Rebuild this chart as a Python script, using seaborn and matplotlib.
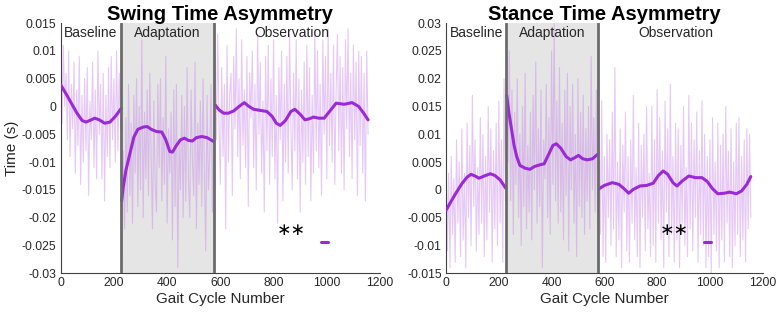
import numpy as np
import pandas as pd
import matplotlib
matplotlib.use("Agg")
import matplotlib.pyplot as plt
import seaborn as sns
from matplotlib.ticker import FuncFormatter

# ---------------- data (values in ms, converted to s) ----------------
phase_bounds = [228, 577]
phase_names = ["Baseline", "Adaptation", "Observation"]
phase_label_x = [114, 402, 870]

raw_step = 5
swing_raw = [
    # baseline 0-225
    9, -3, 11, 0, 6, -6, 10, -9, 4, -4,
    8, -12, 3, -7, 9, -14, 2, -10, 5, -8,
    7, -16, 1, -6, 8, -11, 3, -13, 10, -5,
    4, -13, 6, -17, 2, -9, 7, -11, 9, -6,
    5, -10, 10, -8, 6, -4,
    # adaptation 230-575
    -27, -8, -22, -2, -19, 4, -16, -3, -21, 2,
    -12, 5, -18, 0, -15, 12, -20, -1, -13, 3,
    -16, 6, -9, -22, 1, -14, -19, 4, -11, 5,
    -17, -2, -14, 9, -21, -4, -12, -1, -24, 3,
    -18, 4, -29, -6, -15, 2, -20, 0, -17, 7,
    -13, -20, 3, -10, -16, 8, -22, -3, -14, 1,
    -18, 5, -12, -26, 2, -15, -9, 4, -19, -2,
    # observation 580-1155
    10, -6, 13, -3, -14, 7, -9, 4, -22, 11,
    -10, 2, 6, -16, 9, -4, 14, -9, 5, -13,
    12, -7, 3, -11, 9, -18, 6, -2, 10, -11,
    4, -15, 13, -5, 8, -12, 1, -19, 9, -8,
    11, -14, 5, -9, 12, -13, 2, -21, 7, -6,
    10, -17, 4, -10, 9, -12, 13, -3, -15, 6,
    -8, 12, -13, 5, -19, 3, -10, 8, -14, 11,
    -9, 7, -17, 2, -12, 14, -8, 10, -11, 4,
    -16, 12, -5, 9, -13, 14, -7, 6, -10, 11,
    -14, 3, 13, -8, 9, -12, 7, -15, 12, -4,
    14, -9, 6, -13, 11, -6, 8, -16, 10, -7,
    9, -12, 6, -17, 10, -5,
]
stance_raw = [
    # baseline 0-225
    8, -11, 3, -14, 6, -8, 2, -13, 9, -6,
    5, -12, 11, -9, 3, -14, 12, -5, 8, -10,
    17, -3, 9, -11, 4, -8, 13, -6, 10, -12,
    6, -9, 15, -4, 11, -13, 7, -7, 12, -10,
    16, -6, 9, -13, 20, -2,
    # adaptation 230-575
    22, 5, 25, -2, 18, -8, 14, 1, 20, -5,
    10, -10, 15, -3, 21, -7, 8, -4, 14, -9,
    17, 0, 23, -6, 11, -3, 18, -14, 9, 2,
    19, -5, 13, -8, 25, 1, 30, -2, 16, -6,
    22, -4, 12, -9, 18, -1, 21, -11, 15, 0,
    19, -6, 10, -12, 20, -3, 14, -5, 17, -8,
    11, -2, 15, -7, 24, 0, 13, -4, 18, -6,
    # observation 580-1155
    12, -8, 16, -12, 6, -13, 10, -5, 9, -10,
    14, -7, 22, -12, 5, -9, 11, -14, 8, -4,
    14, -11, 6, -13, 9, -6, 17, -9, 4, -12,
    12, -14, 8, -5, 10, -11, 15, -7, 3, -12,
    15, -10, 9, -13, 18, -6, 13, -9, 7, -14,
    16, -4, 11, -12, 19, -8, 6, -13, 12, -9,
    11, -14, 8, -6, 15, -10, 4, -12, 17, -7,
    12, -11, 9, -5, 14, -13, 7, -8, 16, -10,
    10, -14, 6, -12, 9, -15, 13, -8, 5, -11,
    12, -14, 8, -9, 10, -13, 15, -6, 7, -12,
    11, -14, 5, -10, 12, -8, 13, -12, 6, -9,
    9, -13, 11, -7, 10, -5,
]

# smoothed curves per phase
swing_sm_x = [
    [0, 20, 40, 60, 80, 95, 110, 128, 145, 165, 185, 205, 228],
    [229, 235, 245, 260, 275, 290, 310, 325, 340, 360, 380, 395, 410, 420, 435, 450, 465, 480, 495, 510, 530, 550, 575],
    [580, 595, 612, 630, 650, 670, 690, 705, 725, 750, 775, 795, 810, 825, 845, 865, 880, 900, 918, 935, 950, 970, 990, 1010, 1035, 1065, 1095, 1120, 1140, 1155],
]
swing_sm_y = [
    [3.9, 2.3, 0.6, -1.1, -2.5, -2.8, -2.5, -2.1, -2.4, -3.0, -2.8, -1.8, -0.3],
    [-17, -14.5, -11.5, -8.5, -5.5, -4.1, -3.7, -3.6, -4.1, -4.5, -4.6, -6.0, -8.1, -8.2, -7.0, -6.0, -5.7, -6.1, -6.2, -5.6, -5.4, -5.6, -6.3],
    [0.3, -0.6, -1.2, -1.2, -0.8, 0.0, 0.7, 0.1, -0.5, -0.7, -0.9, -1.8, -3.0, -3.4, -2.5, -0.9, -0.5, -1.4, -2.4, -2.2, -1.9, -2.1, -2.1, -0.9, 0.6, 0.4, 0.7, 0.0, -1.3, -2.4],
]
stance_sm_x = [
    [0, 20, 40, 60, 80, 95, 110, 125, 145, 168, 185, 205, 218, 226],
    [230, 238, 248, 258, 268, 280, 300, 318, 335, 355, 372, 390, 405, 418, 435, 455, 472, 488, 502, 518, 535, 555, 575],
    [580, 600, 630, 655, 675, 692, 710, 735, 760, 785, 805, 823, 840, 860, 875, 895, 920, 945, 970, 990, 1010, 1030, 1055, 1075, 1100, 1120, 1140, 1155],
]
stance_sm_y = [
    [-3.7, -2.0, -0.4, 1.1, 2.3, 2.8, 2.5, 2.1, 2.5, 2.9, 2.6, 1.8, 0.9, 0.3],
    [17, 14, 11, 8, 6, 4.4, 3.9, 3.7, 4.2, 4.5, 4.7, 6.5, 8.0, 8.3, 7.5, 6.0, 5.4, 5.8, 6.2, 5.6, 5.4, 5.6, 6.4],
    [0.2, 0.8, 1.3, 1.0, 0.2, -0.6, 0.1, 0.7, 0.8, 1.2, 2.6, 3.4, 2.8, 1.3, 0.7, 1.6, 2.5, 2.2, 2.2, 1.5, 0.2, -0.7, -0.6, -0.4, -0.7, -0.2, 1.0, 2.4],
]

titles = ["Swing Time Asymmetry", "Stance Time Asymmetry"]
ylims = [(-0.03, 0.015), (-0.015, 0.03)]
label_y = [0.0133, 0.0283]
star_pos = [(868, -0.0223), (866, -0.0073)]
dash_x = [[978, 1005], [977, 1004]]
dash_y = [-0.0244, -0.0094]

# ---------------- style ----------------
sns.set_theme(style="white")
plt.rcParams["font.family"] = ["Liberation Sans", "DejaVu Sans"]
LINE = "#9b2ad6"
RAW = "#c987ec"
AXC = "#404040"

fig = plt.figure(figsize=(7.77, 3.17), dpi=100)
ax_pos = [[0.0781, 0.138, 0.411, 0.789], [0.574, 0.138, 0.4076, 0.789]]

raws = [swing_raw, stance_raw]
smx = [swing_sm_x, stance_sm_x]
smy = [swing_sm_y, stance_sm_y]

for i in range(2):
    ax = fig.add_axes(ax_pos[i])
    ax.axvspan(phase_bounds[0], phase_bounds[1], color="#e5e5e5", zorder=0, lw=0)

    # raw trace split by phase
    raw = np.array(raws[i], dtype=float) * 1e-3
    cyc = np.arange(len(raw)) * raw_step
    ph = np.where(cyc < phase_bounds[0], 0, np.where(cyc < phase_bounds[1], 1, 2))
    df_raw = pd.DataFrame({"cycle": cyc, "val": raw, "phase": ph})
    sns.lineplot(data=df_raw, x="cycle", y="val", units="phase", estimator=None,
                 sort=False, color=RAW, alpha=0.45, lw=0.8, ax=ax, zorder=2)

    rows = []
    for k in range(3):
        for xx, yy in zip(smx[i][k], smy[i][k]):
            rows.append((xx, yy * 1e-3, k))
    df_sm = pd.DataFrame(rows, columns=["cycle", "val", "phase"])
    sns.lineplot(data=df_sm, x="cycle", y="val", units="phase", estimator=None,
                 sort=False, color=LINE, lw=2.2, ax=ax, zorder=4)

    for b in phase_bounds:
        ax.axvline(b, color="#6b6b6b", lw=2.0, zorder=5)

    for name, lx in zip(phase_names, phase_label_x):
        ax.text(lx, label_y[i], name, ha="center", va="center", fontsize=10,
                color="#262626", zorder=6)

    ax.text(star_pos[i][0], star_pos[i][1], "\u2217\u2217", ha="center", va="center",
            fontsize=12.5, color="black", zorder=6, family=["DejaVu Sans"])
    ax.plot(dash_x[i], [dash_y[i], dash_y[i]], color=LINE, lw=2.2, zorder=6)

    ax.set_xlim(0, 1200)
    ax.set_ylim(*ylims[i])
    ax.set_xticks(np.arange(0, 1201, 200))
    ax.set_yticks(np.arange(ylims[i][0], ylims[i][1] + 1e-9, 0.005))
    ax.yaxis.set_major_formatter(FuncFormatter(lambda v, p: "%g" % round(v, 4)))
    ax.tick_params(direction="in", length=3, width=0.8, colors=AXC, labelsize=8.7,
                   labelcolor="#262626", pad=3)
    for s in ["top", "right"]:
        ax.spines[s].set_visible(False)
    for s in ["left", "bottom"]:
        ax.spines[s].set_color(AXC)
        ax.spines[s].set_linewidth(0.8)
    ax.set_title(titles[i], fontsize=14.5, fontweight="bold", pad=2, color="black")
    ax.set_xlabel("Gait Cycle Number", fontsize=11, color="#262626", labelpad=2)
    if i == 0:
        ax.set_ylabel("Time (s)", fontsize=11, color="#262626", labelpad=2)
    else:
        ax.set_ylabel("")

fig.savefig("out.png", dpi=100)
